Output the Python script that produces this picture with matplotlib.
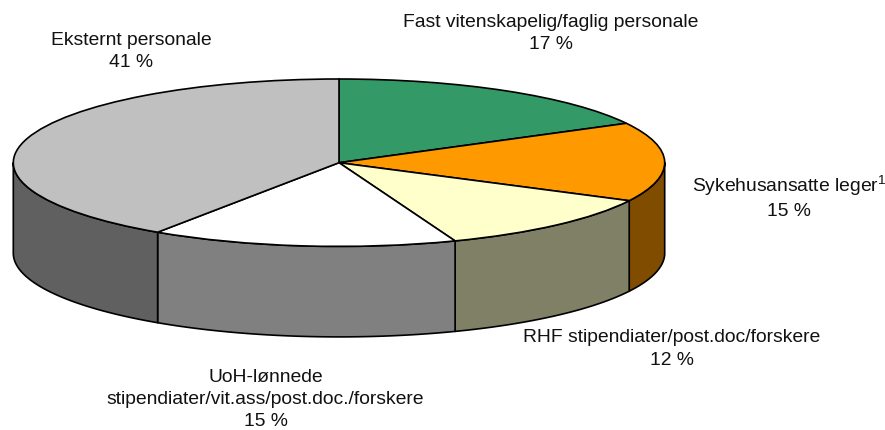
"""3D-style pie of personnel shares, drawn with ax.pie plus extruded side walls."""
import numpy as np
import matplotlib
matplotlib.use("Agg")
import matplotlib.pyplot as plt

labels = ["Fast vitenskapelig/faglig personale", "Sykehusansatte leger$^{1}$",
          "RHF stipendiater/post.doc/forskere",
          "UoH-lønnede\nstipendiater/vit.ass/post.doc./forskere", "Eksternt personale"]
shares = [17.2, 15.3, 11.7, 15.2, 40.6]   # read from the slice boundaries
shown = [17, 15, 12, 15, 41]
top_colors = ["#339966", "#ff9900", "#ffffcc", "#ffffff", "#c0c0c0"]
side_colors = ["#1f5c3d", "#804c00", "#808066", "#808080", "#606060"]

W, H = 885, 430
CX, CY, RX, RY, DEPTH = 339, 162.7, 325.7, 83.7, 90.5

plt.rcParams["font.family"] = ["Liberation Sans", "DejaVu Sans"]
plt.rcParams["mathtext.fontset"] = "custom"
plt.rcParams["mathtext.rm"] = "Liberation Sans"
plt.rcParams["mathtext.default"] = "regular"

fig = plt.figure(figsize=(W / 100, H / 100), dpi=100)
ax = fig.add_axes([0, 0, 1, 1])

# clockwise from 12 o'clock, same as the pie below
edges = np.concatenate([[0], np.cumsum(shares)]) / sum(shares) * 2 * np.pi
dep = DEPTH / RY


def wall(a0, a1, color):
    t = np.linspace(a0, a1, 80)
    x, y = np.sin(t), np.cos(t)
    ax.fill(np.r_[x, x[::-1]], np.r_[y, y[::-1] - dep], fc=color, ec="black",
            lw=1.2, joinstyle="round", zorder=1)


# only the front half of the disc shows its wall
for i, c in enumerate(side_colors):
    a0, a1 = max(edges[i], np.pi / 2), min(edges[i + 1], 3 * np.pi / 2)
    if a1 > a0:
        wall(a0, a1, c)

ax.pie(shares, colors=top_colors, startangle=90, counterclock=False, frame=True,
       wedgeprops={"edgecolor": "black", "linewidth": 1.2})
for p in ax.patches[-len(shares):]:
    p.set_zorder(2)

ax.set_aspect("auto")
ax.set_xlim(-CX / RX, (W - CX) / RX)
ax.set_ylim((CY - H) / RY, CY / RY)
ax.axis("off")


def put(px, py, s):
    ax.text((px - CX) / RX, (CY - py) / RY, s, ha="center", va="center",
            fontsize=13.85, linespacing=1.42, color="#111111", zorder=3)


put(551, 33.5, f"{labels[0]}\n{shown[0]} %")
put(789, 197, f"{labels[1]}\n{shown[1]} %")
put(672, 349, f"{labels[2]}\n{shown[2]} %")
put(265.5, 399.5, f"{labels[3]}\n{shown[3]} %")
put(131.5, 51.5, f"{labels[4]}\n{shown[4]} %")

fig.savefig("out.png", dpi=100, facecolor="white")
